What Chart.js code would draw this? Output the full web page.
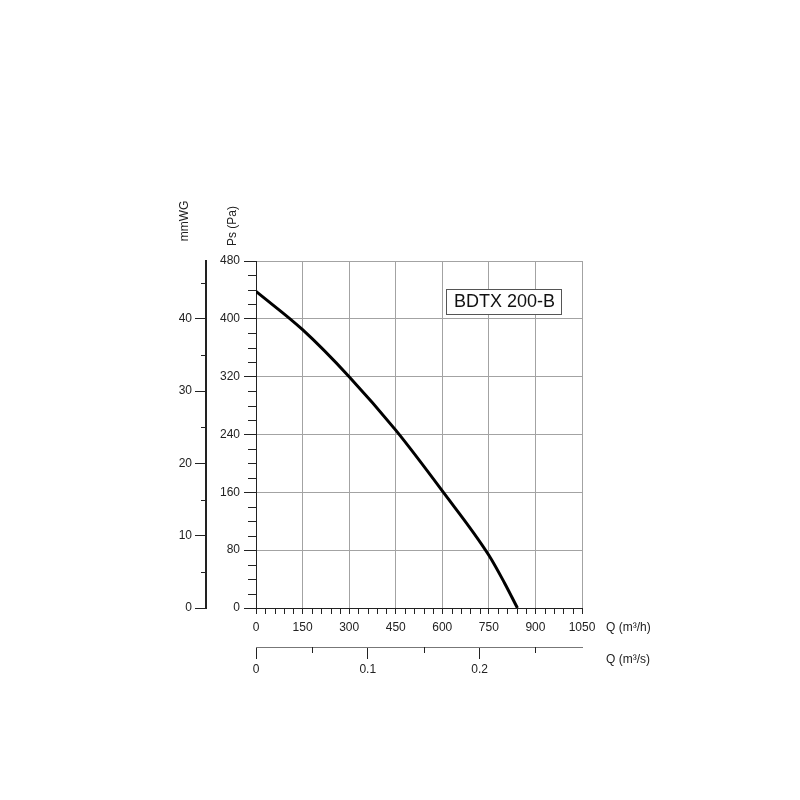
<!DOCTYPE html>
<html>
<head>
<meta charset="utf-8">
<script src="https://cdn.jsdelivr.net/npm/chart.js@4"></script>
<style>
  body { margin: 0; background: #fff; }
  canvas { display: block; }
</style>
</head>
<body>
<canvas id="fanChart" width="800" height="800"></canvas>
<script>
// fan curve BDTX 200-B
const flowValues = [0, 150, 300, 450, 600, 750, 800, 842];   // m3/h
const pressureValues = [438, 385, 320, 246, 162, 73, 35, 0];  // Pa
const flowTicks = [0, 150, 300, 450, 600, 750, 900, 1050];
const pressureTicks = [0, 80, 160, 240, 320, 400, 480];
const mmwgTicks = [0, 10, 20, 30, 40];
const flowSecTicks = [0, 0.1, 0.2];
const modelName = "BDTX 200-B";

const FONT = "'Liberation Sans', Arial, sans-serif";
const gridGray = "#a3a3a3";
const axisDark = "#222";

const isMajor = {
    x: v => v % 150 === 0,
    y: v => v % 80 === 0,
    y2: v => v % 10 === 0,
    x2: v => Math.abs(v * 10 - Math.round(v * 10)) < 1e-6
};

// shorter ticks for the minor steps, drawn on the library's own scales
const minorTicks = {
    id: "minorTicks",
    afterDraw(chart) {
        const ctx = chart.ctx;
        const lens = { x: 6, x2: 6, y: 8, y2: 5 };
        ctx.save();
        ctx.strokeStyle = axisDark;
        ctx.lineWidth = 1;
        Object.keys(lens).forEach(id => {
            const s = chart.scales[id];
            s.ticks.forEach(t => {
                if (isMajor[id](t.value)) return;
                const p = Math.round(s.getPixelForValue(t.value)) + 0.5;
                ctx.beginPath();
                if (s.isHorizontal()) {
                    ctx.moveTo(p, s.top);
                    ctx.lineTo(p, s.top + lens[id]);
                } else {
                    ctx.moveTo(s.right, p);
                    ctx.lineTo(s.right - lens[id], p);
                }
                ctx.stroke();
            });
        });
        ctx.restore();
    }
};

const extraText = {
    id: "extraText",
    afterDraw(chart) {
        const ctx = chart.ctx;
        const a = chart.chartArea;
        ctx.save();
        ctx.fillStyle = axisDark;
        ctx.font = "12px " + FONT;
        ctx.textAlign = "left";
        ctx.textBaseline = "middle";
        ctx.fillText("Q (m³/h)", a.right + 24, chart.scales.x.top + 20);
        ctx.fillText("Q (m³/s)", a.right + 24, chart.scales.x2.top + 13);

        ctx.textAlign = "center";
        ctx.save();
        ctx.translate(185, 221);
        ctx.rotate(-Math.PI / 2);
        ctx.fillText("mmWG", 0, 0);
        ctx.restore();
        ctx.save();
        ctx.translate(233, 226);
        ctx.rotate(-Math.PI / 2);
        ctx.fillText("Ps (Pa)", 0, 0);
        ctx.restore();

        // model label box
        const bx = a.left + 190, by = a.top + 28, bw = 115, bh = 25;
        ctx.fillStyle = "#fff";
        ctx.fillRect(bx, by, bw, bh);
        ctx.strokeStyle = "#555";
        ctx.lineWidth = 1;
        ctx.strokeRect(bx + 0.5, by + 0.5, bw, bh);
        ctx.fillStyle = "#111";
        ctx.font = "18px " + FONT;
        ctx.fillText(modelName, bx + bw / 2 + 1, by + bh / 2 + 1);
        ctx.restore();
    }
};

const ctx = document.getElementById("fanChart");

new Chart(ctx, {
    type: "line",
    data: {
        datasets: [{
            label: modelName,
            data: flowValues.map((q, i) => ({ x: q, y: pressureValues[i] })),
            borderColor: "#000",
            borderWidth: 3,
            pointRadius: 0,
            fill: false,
            cubicInterpolationMode: "monotone",
            xAxisID: "x",
            yAxisID: "y"
        }]
    },
    options: {
        responsive: false,
        animation: false,
        layout: {
            padding: { left: 166, top: 261, right: 218, bottom: 121 }
        },
        plugins: {
            legend: { display: false },
            tooltip: { enabled: false }
        },
        scales: {
            x: {
                type: "linear",
                position: "bottom",
                min: 0,
                max: 1050,
                afterFit: s => { s.height = 39; },
                ticks: {
                    stepSize: 30,
                    maxRotation: 0,
                    autoSkip: false,
                    padding: 6,
                    color: axisDark,
                    font: { family: FONT, size: 12 },
                    callback: v => flowTicks.includes(v) ? String(v) : ""
                },
                grid: {
                    color: c => isMajor.x(c.tick.value) ? gridGray : "rgba(0,0,0,0)",
                    tickColor: c => isMajor.x(c.tick.value) ? axisDark : "rgba(0,0,0,0)",
                    tickLength: 6
                },
                border: { color: axisDark, width: 1 }
            },
            x2: {
                type: "linear",
                position: "bottom",
                min: 0,
                max: 1050 / 3600,
                afterFit: s => { s.height = 32; },
                ticks: {
                    stepSize: 0.05,
                    includeBounds: false,
                    maxRotation: 0,
                    autoSkip: false,
                    padding: 3,
                    color: axisDark,
                    font: { family: FONT, size: 12 },
                    callback: v => {
                        const r = Math.round(v * 100) / 100;
                        return flowSecTicks.includes(r) ? String(r) : "";
                    }
                },
                grid: {
                    drawOnChartArea: false,
                    tickColor: c => isMajor.x2(c.tick.value) ? axisDark : "rgba(0,0,0,0)",
                    tickLength: 12
                },
                border: { color: "#777", width: 1 }
            },
            y: {
                type: "linear",
                position: "left",
                min: 0,
                max: 480,
                afterFit: s => { s.width = 50; },
                ticks: {
                    stepSize: 20,
                    autoSkip: false,
                    padding: 4,
                    color: axisDark,
                    font: { family: FONT, size: 12 },
                    callback: v => pressureTicks.includes(v) ? String(v) : ""
                },
                grid: {
                    color: c => isMajor.y(c.tick.value) ? gridGray : "rgba(0,0,0,0)",
                    tickColor: c => isMajor.y(c.tick.value) ? axisDark : "rgba(0,0,0,0)",
                    tickLength: 12
                },
                border: { color: axisDark, width: 1 }
            },
            y2: {
                // the datasheet puts 10 mmWG on 100 Pa
                type: "linear",
                position: "left",
                min: 0,
                max: 48,
                afterFit: s => { s.width = 40; },
                ticks: {
                    stepSize: 5,
                    includeBounds: false,
                    autoSkip: false,
                    padding: 3,
                    color: axisDark,
                    font: { family: FONT, size: 12 },
                    callback: v => mmwgTicks.includes(v) ? String(v) : ""
                },
                grid: {
                    drawOnChartArea: false,
                    tickColor: c => isMajor.y2(c.tick.value) ? axisDark : "rgba(0,0,0,0)",
                    tickLength: 11
                },
                border: { color: axisDark, width: 2 }
            }
        }
    },
    plugins: [minorTicks, extraText]
});
</script>
</body>
</html>
